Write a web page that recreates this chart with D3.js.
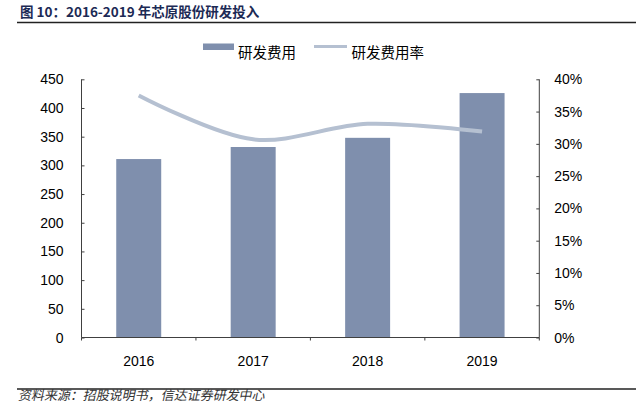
<!DOCTYPE html>
<html>
<head>
<meta charset="utf-8">
<script src="https://cdn.jsdelivr.net/npm/d3@7"></script>
<style>
  body { margin: 0; background: #fff; }
  svg { display: block; font-family: "Liberation Sans", Arial, sans-serif; }
</style>
</head>
<body>
<script>
// data
var years = ["2016", "2017", "2018", "2019"];
var rdSpend = [311, 332, 348, 426];
var rdRate = [0.375, 0.307, 0.331, 0.319];
var leftTicks = [0, 50, 100, 150, 200, 250, 300, 350, 400, 450];
var rightTicks = [0, 0.05, 0.10, 0.15, 0.20, 0.25, 0.30, 0.35, 0.40];

var W = 640, H = 416;
var margin = {top: 79.3, right: 640 - 539.3, bottom: 416 - 337.5, left: 81.5};
var width = W - margin.left - margin.right;
var height = H - margin.top - margin.bottom;

var barColor = "#7f8fad";
var lineColor = "#b5c0d1";
var axisColor = "#404040";

var svg = d3.select("body").append("svg")
    .attr("width", W)
    .attr("height", H);

// title + rules
svg.append("text")
    .attr("x", 20)
    .attr("y", 17)
    .attr("font-family", "'Noto Sans CJK SC', sans-serif")
    .attr("font-size", 13.5)
    .attr("font-weight", "bold")
    .attr("fill", "#1c2a55")
    .text("图 10：2016-2019 年芯原股份研发投入");

svg.append("line")
    .attr("x1", 17).attr("x2", 636)
    .attr("y1", 22.5).attr("y2", 22.5)
    .attr("stroke", "#222").attr("stroke-width", 1.6);

svg.append("line")
    .attr("x1", 17).attr("x2", 636)
    .attr("y1", 389).attr("y2", 389)
    .attr("stroke", "#222").attr("stroke-width", 1.6);

svg.append("text")
    .attr("x", 18)
    .attr("y", 400)
    .attr("font-family", "'Noto Sans CJK SC', sans-serif")
    .attr("font-size", 13)
    .attr("fill", "#333")
    .attr("transform", "skewX(-12) translate(85,0)")
    .text("资料来源：招股说明书，信达证券研发中心");

var g = svg.append("g")
    .attr("transform", "translate(" + margin.left + "," + margin.top + ")");

var x = d3.scaleBand()
    .domain(years)
    .range([0, width])
    .padding(0);

var y = d3.scaleLinear()
    .domain([0, 450])
    .range([height, 0]);

var y2 = d3.scaleLinear()
    .domain([0, 0.40])
    .range([height, 0]);

var barW = x.bandwidth() * 0.393;

// bars
g.selectAll(".bar")
    .data(years)
    .enter().append("rect")
    .attr("class", "bar")
    .attr("x", function(d) { return x(d) + (x.bandwidth() - barW) / 2; })
    .attr("width", barW)
    .attr("y", function(d, i) { return y(rdSpend[i]); })
    .attr("height", function(d, i) { return height - y(rdSpend[i]); })
    .attr("fill", barColor);

// rate line
var line = d3.line()
    .x(function(d, i) { return x(years[i]) + x.bandwidth() / 2; })
    .y(function(d) { return y2(d); })
    .curve(d3.curveCatmullRom.alpha(0.5));

g.append("path")
    .datum(rdRate)
    .attr("d", line)
    .attr("fill", "none")
    .attr("stroke", lineColor)
    .attr("stroke-width", 4)
    .attr("stroke-linecap", "butt");

// left axis, ticks pointing inward
var yAxis = d3.axisRight(y).tickValues(leftTicks).tickSize(3).tickFormat("");
var ga = g.append("g").call(yAxis);
ga.selectAll("path, line").attr("stroke", axisColor);
ga.select(".domain").attr("d", "M0,0V" + height);

g.selectAll(".ylab")
    .data(leftTicks)
    .enter().append("text")
    .attr("class", "ylab")
    .attr("x", -18)
    .attr("y", function(d) { return y(d); })
    .attr("dy", "0.36em")
    .attr("text-anchor", "end")
    .attr("font-size", 14)
    .attr("fill", "#000")
    .text(function(d) { return d; });

// right axis, ticks pointing inward
var y2Axis = d3.axisLeft(y2).tickValues(rightTicks).tickSize(3).tickFormat("");
var gb = g.append("g").attr("transform", "translate(" + width + ",0)").call(y2Axis);
gb.selectAll("path, line").attr("stroke", axisColor);
gb.select(".domain").attr("d", "M0,0V" + height);

g.selectAll(".y2lab")
    .data(rightTicks)
    .enter().append("text")
    .attr("class", "y2lab")
    .attr("x", width + 15)
    .attr("y", function(d) { return y2(d); })
    .attr("dy", "0.36em")
    .attr("text-anchor", "start")
    .attr("font-size", 14)
    .attr("fill", "#000")
    .text(d3.format(".0%"));

// bottom axis with ticks at band edges
var edges = years.map(function(d) { return x(d); }).concat([width]);
var gx = g.append("g").attr("transform", "translate(0," + height + ")");
gx.append("line")
    .attr("x1", 0).attr("x2", width)
    .attr("stroke", axisColor);
gx.selectAll(".xtick")
    .data(edges)
    .enter().append("line")
    .attr("class", "xtick")
    .attr("x1", function(d) { return d; })
    .attr("x2", function(d) { return d; })
    .attr("y1", 0).attr("y2", 3)
    .attr("stroke", axisColor);
gx.selectAll(".xlab")
    .data(years)
    .enter().append("text")
    .attr("class", "xlab")
    .attr("x", function(d) { return x(d) + x.bandwidth() / 2; })
    .attr("y", 28.5)
    .attr("text-anchor", "middle")
    .attr("font-size", 14)
    .attr("fill", "#000")
    .text(function(d) { return d; });

// legend
var lg = svg.append("g");
lg.append("rect")
    .attr("x", 203).attr("y", 43.5)
    .attr("width", 31).attr("height", 6.5)
    .attr("fill", barColor);
lg.append("text")
    .attr("x", 238).attr("y", 52.5)
    .attr("dy", "0.36em")
    .attr("font-family", "'Noto Sans CJK SC', sans-serif")
    .attr("font-size", 14.5)
    .attr("fill", "#000")
    .text("研发费用");
lg.append("line")
    .attr("x1", 314).attr("x2", 347)
    .attr("y1", 46.5).attr("y2", 46.5)
    .attr("stroke", lineColor)
    .attr("stroke-width", 3);
lg.append("text")
    .attr("x", 351.5).attr("y", 52.5)
    .attr("dy", "0.36em")
    .attr("font-family", "'Noto Sans CJK SC', sans-serif")
    .attr("font-size", 14.5)
    .attr("fill", "#000")
    .text("研发费用率");
</script>
</body>
</html>
